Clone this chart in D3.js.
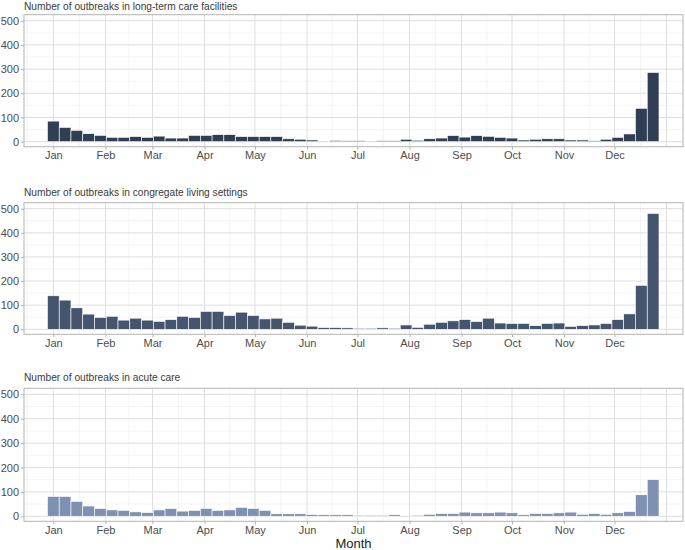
<!DOCTYPE html>
<html>
<head>
<meta charset="utf-8">
<script src="https://cdn.jsdelivr.net/npm/d3@7"></script>
<style>
  html, body { margin: 0; padding: 0; background: #ffffff; }
  svg { display: block; }
  text { font-family: "Liberation Sans", Arial, sans-serif; }
</style>
</head>
<body>
<svg id="chart" width="685" height="550"></svg>
<script>
// ---- data ----
const weeks = [
  "2021-01-01","2021-01-08","2021-01-15","2021-01-22","2021-01-29",
  "2021-02-05","2021-02-12","2021-02-19","2021-02-26",
  "2021-03-05","2021-03-12","2021-03-19","2021-03-26",
  "2021-04-02","2021-04-09","2021-04-16","2021-04-23","2021-04-30",
  "2021-05-07","2021-05-14","2021-05-21","2021-05-28",
  "2021-06-04","2021-06-11","2021-06-18","2021-06-25",
  "2021-07-02","2021-07-09","2021-07-16","2021-07-23","2021-07-30",
  "2021-08-06","2021-08-13","2021-08-20","2021-08-27",
  "2021-09-03","2021-09-10","2021-09-17","2021-09-24",
  "2021-10-01","2021-10-08","2021-10-15","2021-10-22","2021-10-29",
  "2021-11-05","2021-11-12","2021-11-19","2021-11-26",
  "2021-12-03","2021-12-10","2021-12-17","2021-12-24"
];
const longTermCare = [
  85, 59, 47, 33, 26, 18, 18, 21, 18, 23, 15, 15, 26, 26, 29, 29, 21, 21, 21, 21,
  12, 10, 7, 0, 5, 4, 4, 0, 4, 4, 10, 6, 12, 15, 25, 19, 25, 22, 18, 15,
  7, 10, 12, 12, 7, 7, 4, 10, 18, 32, 138, 286
];
const congregateLiving = [
  139, 121, 89, 63, 49, 54, 38, 46, 38, 33, 40, 54, 49, 74, 74, 57, 71, 57, 43, 46,
  29, 17, 13, 7, 7, 6, 4, 4, 6, 4, 18, 8, 21, 29, 35, 40, 32, 46, 26, 24,
  24, 15, 24, 26, 12, 15, 18, 24, 40, 64, 182, 480
];
const acuteCare = [
  81, 81, 61, 42, 32, 26, 24, 18, 15, 26, 32, 21, 24, 32, 24, 26, 36, 32, 24, 10,
  10, 10, 7, 6, 6, 6, 4, 4, 4, 6, 0, 4, 8, 11, 11, 17, 14, 14, 17, 14,
  6, 11, 11, 14, 17, 8, 11, 8, 14, 19, 88, 150
];
const panelTitles = [
  "Number of outbreaks in long-term care facilities",
  "Number of outbreaks in congregate living settings",
  "Number of outbreaks in acute care"
];
const yTicks = [0, 100, 200, 300, 400, 500];
const monthLabels = ["Jan","Feb","Mar","Apr","May","Jun","Jul","Aug","Sep","Oct","Nov","Dec"];
const xTitle = "Month";

// ---- layout ----
const svg = d3.select("#chart");
const left = 24, right = 683;
const panels = [
  { top: 14.7, bottom: 146.7, values: longTermCare, color: "#2f3e52", titleY: 9.5 },
  { top: 202.7, bottom: 334.3, values: congregateLiving, color: "#45556d", titleY: 195.5 },
  { top: 388.3, bottom: 521.3, values: acuteCare, color: "#7f91b0", titleY: 381 }
];
const parse = d3.timeParse("%Y-%m-%d");
const weekDates = weeks.map(parse);
const jan1 = parse("2021-01-01");
const x = d3.scaleTime()
  .domain([d3.timeHour.offset(jan1, -17.44 * 24), d3.timeHour.offset(jan1, 374.8 * 24)])
  .range([left, right]);

const monthStarts = d3.timeMonth.range(parse("2020-12-01"), parse("2022-02-01"));
const majorX = monthStarts.filter(d => d >= jan1 && d <= parse("2022-01-01"));
const minorX = d3.pairs(monthStarts).map(([a, b]) => new Date((+a + +b) / 2))
  .filter(d => x(d) > left && x(d) < right);

panels.forEach((p, pi) => {
  const y = d3.scaleLinear().domain([-20.7, 524.8]).range([p.bottom, p.top]);
  const g = svg.append("g");

  // minor grid
  g.selectAll(".minx").data(minorX).enter().append("line")
    .attr("x1", d => x(d)).attr("x2", d => x(d))
    .attr("y1", p.top).attr("y2", p.bottom)
    .attr("stroke", "#ededed").attr("stroke-width", 0.6);
  g.selectAll(".miny").data([50, 150, 250, 350, 450]).enter().append("line")
    .attr("x1", left).attr("x2", right)
    .attr("y1", d => y(d)).attr("y2", d => y(d))
    .attr("stroke", "#ededed").attr("stroke-width", 0.6);
  // major grid
  g.selectAll(".majx").data(majorX).enter().append("line")
    .attr("x1", d => x(d)).attr("x2", d => x(d))
    .attr("y1", p.top).attr("y2", p.bottom)
    .attr("stroke", "#dedede").attr("stroke-width", 1);
  g.selectAll(".majy").data(yTicks).enter().append("line")
    .attr("x1", left).attr("x2", right)
    .attr("y1", d => y(d)).attr("y2", d => y(d))
    .attr("stroke", "#dedede").attr("stroke-width", 1);

  // bars
  g.selectAll(".bar").data(p.values).enter().append("rect")
    .attr("x", (d, i) => x(d3.timeHour.offset(weekDates[i], -84)))
    .attr("width", (d, i) => x(d3.timeHour.offset(weekDates[i], 84)) - x(d3.timeHour.offset(weekDates[i], -84)))
    .attr("y", d => y(d))
    .attr("height", d => Math.max(0, y(0) - y(d)))
    .attr("fill", p.color)
    .attr("stroke", d => d > 0 ? "#ffffff" : "none")
    .attr("stroke-width", 0.6);

  // border
  g.append("rect").attr("x", left).attr("y", p.top)
    .attr("width", right - left).attr("height", p.bottom - p.top)
    .attr("fill", "none").attr("stroke", "#b3b3b3").attr("stroke-width", 1);

  // y axis
  const yAxis = d3.axisLeft(y).tickValues(yTicks).tickSize(3).tickPadding(2).tickFormat(d3.format("d"));
  const ya = g.append("g").attr("transform", `translate(${left},0)`).call(yAxis);
  ya.select(".domain").remove();
  ya.selectAll("line").attr("stroke", "#b3b3b3");
  ya.selectAll("text").attr("fill", "#4d4d4d").style("font-size", "11px")
    .style("font-family", "'Liberation Sans', Arial, sans-serif");

  // x axis
  const xAxis = d3.axisBottom(x).tickValues(majorX.slice(0, 12)).tickSize(3).tickPadding(2)
    .tickFormat((d, i) => monthLabels[i]);
  const xa = g.append("g").attr("transform", `translate(0,${p.bottom})`).call(xAxis);
  xa.select(".domain").remove();
  xa.selectAll("line").attr("stroke", "#b3b3b3");
  xa.selectAll("text").attr("fill", "#4d4d4d").style("font-size", "11px")
    .style("font-family", "'Liberation Sans', Arial, sans-serif");

  // title
  svg.append("text").attr("x", left).attr("y", p.titleY)
    .attr("fill", "#3a3a3a").style("font-size", "10.2px")
    .text(panelTitles[pi]);
});

svg.append("text").attr("x", (left + right) / 2).attr("y", 548)
  .attr("text-anchor", "middle").attr("fill", "#1a1a1a").style("font-size", "13px")
  .text(xTitle);
</script>
</body>
</html>
